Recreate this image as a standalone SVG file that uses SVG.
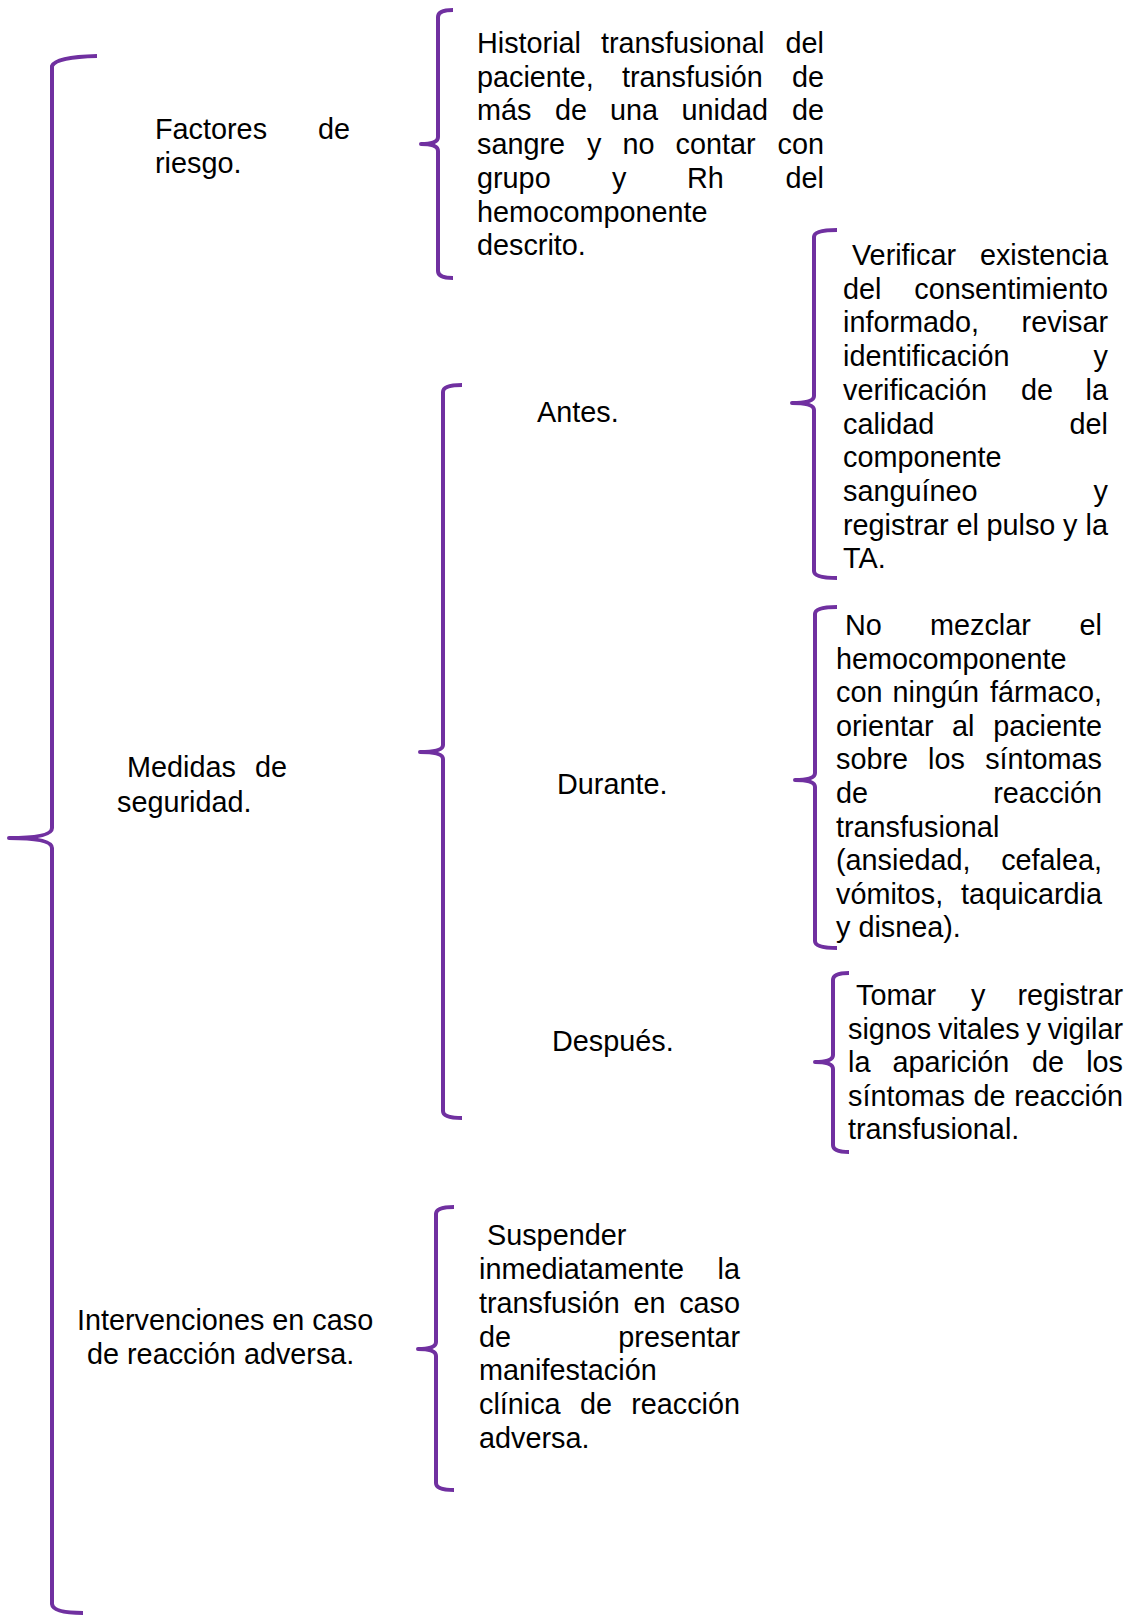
<svg xmlns="http://www.w3.org/2000/svg" width="1146" height="1616" viewBox="0 0 1146 1616">
<style>
text{font-family:"Liberation Sans",Arial,sans-serif;font-size:28.8px;fill:#000}
.e{text-anchor:end}
.br{fill:none;stroke:#7030A0;stroke-width:4;stroke-linecap:butt;stroke-linejoin:round}
</style>
<rect width="1146" height="1616" fill="#fff"/>
<g id="connectors">
<path class="br" d="M97 56 Q56 57 52 66 L52 828 Q52 838 9 838 Q52 838 52 848 L52 1604 Q53 1613 83 1613"/>
<path class="br" d="M453 10 Q438 10 438 17 L438 137 Q438 144 421 144 Q438 144 438 151 L438 271 Q438 278 453 278"/>
<path class="br" d="M462 385 Q443 385 443 392 L443 745 Q443 752 420 752 Q443 752 443 759 L443 1111 Q443 1118 462 1118"/>
<path class="br" d="M454 1207 Q436 1207 436 1214 L436 1342 Q436 1349 418 1349 Q436 1349 436 1356 L436 1483 Q436 1490 454 1490"/>
<path class="br" d="M837 230 Q814 230 814 237 L814 396 Q814 403 792 403 Q814 403 814 410 L814 571 Q814 578 837 578"/>
<path class="br" d="M837 607 Q815 607 815 614 L815 773 Q815 780 795 780 Q815 780 815 787 L815 941 Q815 948 837 948"/>
<path class="br" d="M849 973 Q833 973 833 980 L833 1055 Q833 1062 815 1062 Q833 1062 833 1069 L833 1145 Q833 1152 849 1152"/>
</g>
<g id="root-factores">
<text x="155" y="139">Factores</text><text class="e" x="350" y="139">de</text>
<text x="155" y="173">riesgo.</text>
</g>
<g id="root-medidas">
<text x="127" y="777">Medidas</text><text class="e" x="287" y="777">de</text>
<text x="117" y="812">seguridad.</text>
</g>
<g id="root-intervenciones">
<text x="77" y="1330" font-size="29.2">Intervenciones en caso</text>
<text x="87" y="1364" font-size="29.2">de reacción adversa.</text>
</g>
<g id="factores-detalle">
<text x="477" y="53">Historial</text><text x="601" y="53">transfusional</text><text class="e" x="824" y="53">del</text>
<text x="477" y="86.7">paciente,</text><text x="622" y="86.7">transfusión</text><text class="e" x="824" y="86.7">de</text>
<text x="477" y="120.4">más</text><text x="555" y="120.4">de</text><text x="610" y="120.4">una</text><text x="681.5" y="120.4">unidad</text><text class="e" x="824" y="120.4">de</text>
<text x="477" y="154.1">sangre</text><text x="587" y="154.1">y</text><text x="622.5" y="154.1">no</text><text x="675.5" y="154.1">contar</text><text class="e" x="824" y="154.1">con</text>
<text x="477" y="187.8">grupo</text><text x="612" y="187.8">y</text><text x="687" y="187.8">Rh</text><text class="e" x="824" y="187.8">del</text>
<text x="477" y="221.5">hemocomponente</text>
<text x="477" y="255.2">descrito.</text>
</g>
<g id="antes">
<text x="537" y="422">Antes.</text>
</g>
<g id="durante">
<text x="557" y="794">Durante.</text>
</g>
<g id="despues">
<text x="552" y="1051">Después.</text>
</g>
<g id="antes-detalle">
<text x="852" y="265">Verificar</text><text class="e" x="1108" y="265">existencia</text>
<text x="843" y="298.7">del</text><text class="e" x="1108" y="298.7">consentimiento</text>
<text x="843" y="332.4">informado,</text><text class="e" x="1108" y="332.4">revisar</text>
<text x="843" y="366.1">identificación</text><text class="e" x="1108" y="366.1">y</text>
<text x="843" y="399.8">verificación</text><text x="1021" y="399.8">de</text><text class="e" x="1108" y="399.8">la</text>
<text x="843" y="433.5">calidad</text><text class="e" x="1108" y="433.5">del</text>
<text x="843" y="467.2">componente</text>
<text x="843" y="500.9">sanguíneo</text><text class="e" x="1108" y="500.9">y</text>
<text x="843" y="534.6">registrar</text><text x="956.5" y="534.6">el</text><text x="986.5" y="534.6">pulso</text><text x="1063" y="534.6">y</text><text class="e" x="1108" y="534.6">la</text>
<text x="843" y="568.3">TA.</text>
</g>
<g id="durante-detalle">
<text x="845" y="635">No</text><text x="930" y="635">mezclar</text><text class="e" x="1102" y="635">el</text>
<text x="836" y="668.6">hemocomponente</text>
<text x="836" y="702.2">con</text><text x="892.5" y="702.2">ningún</text><text class="e" x="1102" y="702.2">fármaco,</text>
<text x="836" y="735.8">orientar</text><text x="952" y="735.8">al</text><text class="e" x="1102" y="735.8">paciente</text>
<text x="836" y="769.4">sobre</text><text x="928" y="769.4">los</text><text class="e" x="1102" y="769.4">síntomas</text>
<text x="836" y="803">de</text><text class="e" x="1102" y="803">reacción</text>
<text x="836" y="836.6">transfusional</text>
<text x="836" y="870.2">(ansiedad,</text><text class="e" x="1102" y="870.2">cefalea,</text>
<text x="836" y="903.8">vómitos,</text><text class="e" x="1102" y="903.8">taquicardia</text>
<text x="836" y="937.4">y disnea).</text>
</g>
<g id="despues-detalle">
<text x="856" y="1005">Tomar</text><text x="971" y="1005">y</text><text class="e" x="1123" y="1005">registrar</text>
<text x="848" y="1038.5">signos</text><text x="938" y="1038.5">vitales</text><text x="1026.5" y="1038.5">y</text><text class="e" x="1123" y="1038.5">vigilar</text>
<text x="848" y="1072">la</text><text x="892.5" y="1072">aparición</text><text x="1032" y="1072">de</text><text class="e" x="1123" y="1072">los</text>
<text x="848" y="1105.5">síntomas</text><text x="973.5" y="1105.5">de</text><text class="e" x="1123" y="1105.5">reacción</text>
<text x="848" y="1139">transfusional.</text>
</g>
<g id="intervenciones-detalle">
<text x="487" y="1245">Suspender</text>
<text x="479" y="1279">inmediatamente</text><text class="e" x="740" y="1279">la</text>
<text x="479" y="1313">transfusión</text><text x="633.5" y="1313">en</text><text class="e" x="740" y="1313">caso</text>
<text x="479" y="1346.5">de</text><text class="e" x="740" y="1346.5">presentar</text>
<text x="479" y="1380">manifestación</text>
<text x="479" y="1414">clínica</text><text x="580" y="1414">de</text><text class="e" x="740" y="1414">reacción</text>
<text x="479" y="1448">adversa.</text>
</g>
</svg>
